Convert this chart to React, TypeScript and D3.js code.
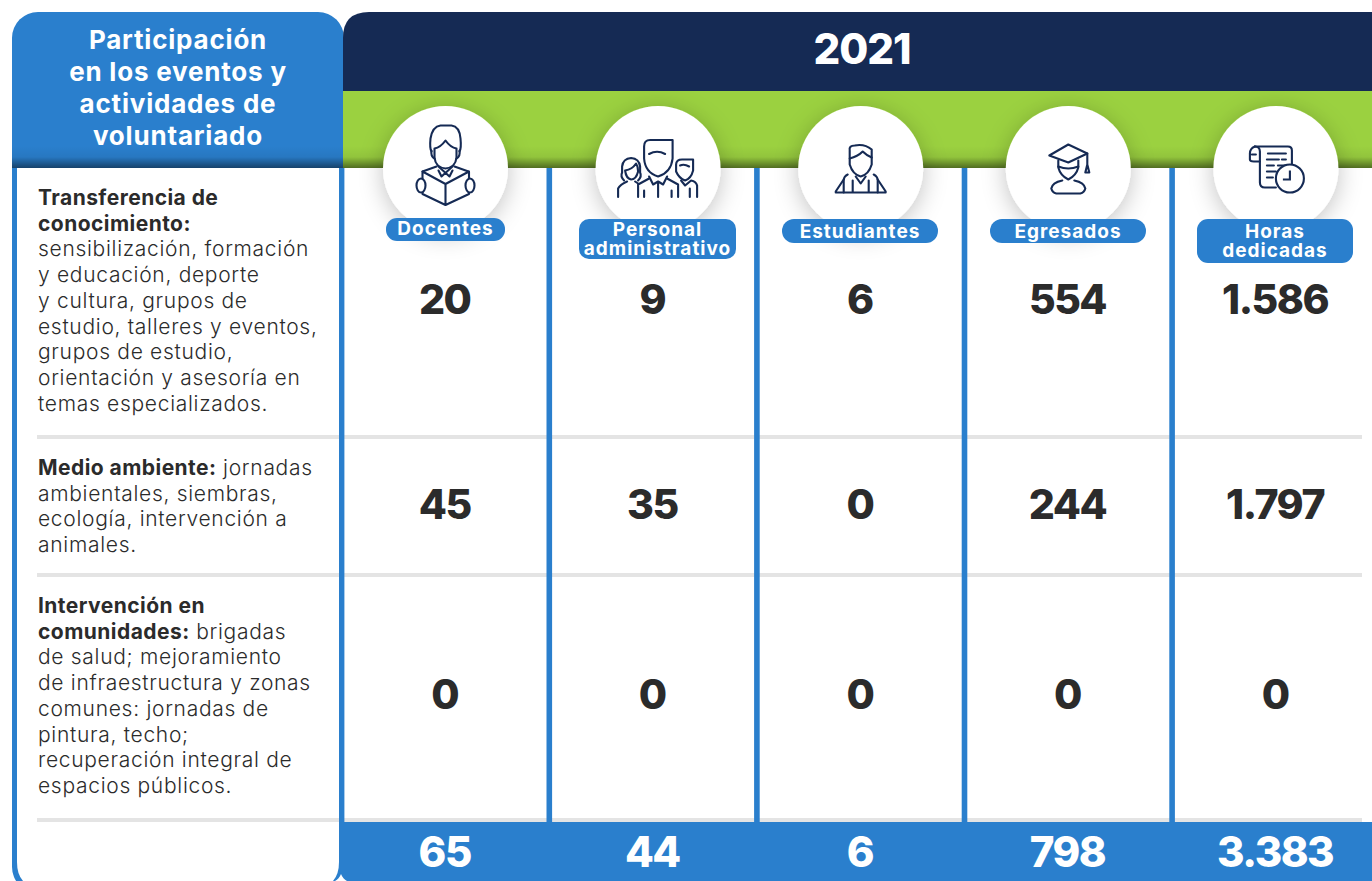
import { useEffect, useRef } from 'react';
import * as d3 from 'd3';

const year = '2021';
const titleLines = ['Participación', 'en los eventos y', 'actividades de', 'voluntariado'];
const categories = ['Docentes', 'Personal administrativo', 'Estudiantes', 'Egresados', 'Horas dedicadas'];
const pillLines = [['Docentes'], ['Personal', 'administrativo'], ['Estudiantes'], ['Egresados'], ['Horas', 'dedicadas']];
const rowNames = ['Transferencia', 'Medio ambiente', 'Intervencion'];
const transferencia = ['20', '9', '6', '554', '1.586'];
const medioAmbiente = ['45', '35', '0', '244', '1.797'];
const intervencion = ['0', '0', '0', '0', '0'];
const totals = ['65', '44', '6', '798', '3.383'];
const rowValues = [transferencia, medioAmbiente, intervencion];

// [bold part, regular part] per line
const rowTexts = [
  [
    ['Transferencia de', ''],
    ['conocimiento:', ''],
    ['', 'sensibilización, formación'],
    ['', 'y educación, deporte'],
    ['', 'y cultura, grupos de'],
    ['', 'estudio, talleres y eventos,'],
    ['', 'grupos de estudio,'],
    ['', 'orientación y asesoría en'],
    ['', 'temas especializados.'],
  ],
  [
    ['Medio ambiente:', ' jornadas'],
    ['', 'ambientales, siembras,'],
    ['', 'ecología, intervención a'],
    ['', 'animales.'],
  ],
  [
    ['Intervención en', ''],
    ['comunidades:', ' brigadas'],
    ['', 'de salud; mejoramiento'],
    ['', 'de infraestructura y zonas'],
    ['', 'comunes: jornadas de'],
    ['', 'pintura, techo;'],
    ['', 'recuperación integral de'],
    ['', 'espacios públicos.'],
  ],
];

const BLUE = '#2a7fcd';
const NAVY = '#152a54';
const GREEN = '#9bd140';
const INK = '#2b2b2b';
const FONT = 'Inter, "Open Sans", sans-serif';

// icons, drawn around the centre of each circle
const iconPaths = [
  [
    'M-14,-17 Q-16,-20 -15,-30 Q-13,-42 -5,-43 H6 Q14,-42 15,-30 Q16,-20 14,-17',
    'M-11,-20 Q-5,-21 0,-28 Q5,-21 11,-20 V-11 Q10,-1 0,0 Q-10,-1 -11,-11 Z',
    'M-14,-18 Q-15,-12 -11,-10 M14,-18 Q15,-12 11,-10',
    'M-7,-2 L4,8 M7,-2 L-4,8 M-4,8 L-7,2 M4,8 L7,2',
    'M-23,3 L-9,-2 M23,3 L9,-2',
    'M0,15.5 L-23,3 V25.5 L0,36.5 L23.5,25.5 V3 Z M0,15.5 V36.5',
  ],
  [
    'M-14,-22 Q-14,-28.5 -8,-28.5 H14.5 V-10 Q13,4 0,8 Q-13,4 -14,-10 Z',
    'M-9,-14.5 Q-1,-19 7,-14.5',
    'M-9,8 L-5,16 L0,13 L5,16 L9,8 M0,13 V28.5',
    'M-9,10 L-20,16 V28.5 M9,10 L20,16 V28.5 M-14,22 V28.5 M13.5,22 V28.5',
    'M-34,12 Q-38,8 -36,4 V-2 Q-35,-10 -27,-10.5 Q-19,-10 -18,-2 V4 Q-16,8 -20,12',
    'M-33,2 Q-26,1 -22,-5 Q-20,-2 -20,3 Q-22,11 -27,11 Q-32,10 -33,2',
    'M-40,28.5 V20 Q-38,16 -31,13 M-23,13 L-20,15',
    'M18,-4 Q18,-9 24,-9 H35 V2 Q33,10 27,12 Q21,10 18,3 Z',
    'M22,-3 Q26,-5 31,-2',
    'M23,12 L27,17 L33,12 Q38,13 39,17 V28.5 M31.7,20 V28.5',
  ],
  [
    'M-11,-4 V-18 Q-12,-23 -6,-23 Q4,-25 11,-19 V-4 Q8,6 0,8 Q-8,6 -11,-4 Z',
    'M-11,-10 Q-3,-12 2,-17 Q6,-13 11,-11',
    'M-13,6 Q-17,8 -17,12 V24 M13,6 Q17,8 17,12 V24 M-5,8 L0,15 L5,8',
    'M-25,23 L-17,11 M25,23 L17,11 M-25,24 H25 M-8,12 V24 M8,12 V24',
  ],
  [
    'M-19,-13 L0,-24 L19,-15 L0,-6 Z',
    'M-10,-8 V-1 Q-8,7 0,11 Q8,7 10,-1 V-8',
    'M-10,-2 Q0,2 10,-2',
    'M19,-15 V-4 M17,4 L19,-4 L21,4 Z',
    'M-6,12 Q-16,14 -17,20 Q-16,24 -12,25 H12 Q16,24 17,20 Q16,14 6,12',
  ],
  [
    'M-21,-22 H12 Q16,-22 16,-18 V-3',
    'M-21,-22 Q-16,-22 -16,-17 V14 Q-16,19 -11,19 H0',
    'M-21,-22 Q-26,-20 -26,-15 V-9 Q-26,-7 -22,-7 H-16 M-24,-14 H-20',
    'M-8,-15 H10 M-9,-9 H3 M6,-9 H10 M-9,-3 H-2 M2,-3 H10 M-9,3 H0 M-9,9 H-3',
  ],
];

const App = () => {
  const svgRef = useRef<SVGSVGElement>(null);

  useEffect(() => {
    const svg = d3.select(svgRef.current);
    svg.selectAll('*').remove();

    const xScale = d3.scaleBand().domain(categories).range([341.7, 1379.7]);
    const rowY = d3.scaleOrdinal<string, number>().domain(rowNames).range([299, 504, 694]);
    const center = (c: string) => (xScale(c) as number) + xScale.bandwidth() / 2;
    const circleOffset = [0, 5, 0, 0, 0];

    const defs = svg.append('defs');
    const shadow = defs.append('filter').attr('id', 'circle-shadow')
      .attr('x', '-50%').attr('y', '-50%').attr('width', '200%').attr('height', '200%');
    shadow.append('feDropShadow').attr('dx', 0).attr('dy', 4).attr('stdDeviation', 12)
      .attr('flood-color', '#000').attr('flood-opacity', 0.24);
    const fade = defs.append('linearGradient').attr('id', 'fade').attr('x1', 0).attr('x2', 0).attr('y1', 0).attr('y2', 1);
    fade.append('stop').attr('offset', '0%').attr('stop-color', '#000').attr('stop-opacity', 0);
    fade.append('stop').attr('offset', '50%').attr('stop-color', '#000').attr('stop-opacity', 0.06);
    fade.append('stop').attr('offset', '100%').attr('stop-color', '#000').attr('stop-opacity', 0.48);

    svg.append('rect').attr('width', 1372).attr('height', 881).attr('fill', '#fff');

    // left panel
    svg.append('rect').attr('x', 12).attr('y', 12).attr('width', 332).attr('height', 881).attr('rx', 26).attr('fill', BLUE);

    // right header
    svg.append('path').attr('fill', NAVY).attr('d', 'M343,91 V38 Q343,12 369,12 H1372 V91 Z');
    svg.append('rect').attr('x', 343).attr('y', 91).attr('width', 1029).attr('height', 77).attr('fill', GREEN);
    svg.append('rect').attr('x', 12).attr('y', 146).attr('width', 1360).attr('height', 22).attr('fill', 'url(#fade)');

    svg.append('path').attr('fill', '#fff')
      .attr('d', 'M17,168 H339 V862 Q339,888 313,888 H43 Q17,888 17,862 Z');

    // row separators
    svg.append('g').selectAll('rect').data([437, 575, 820]).enter().append('rect')
      .attr('x', 37).attr('y', d => d - 2).attr('width', 1325).attr('height', 4).attr('fill', '#e4e4e4');

    // column dividers
    svg.append('g').selectAll('rect').data(categories.slice(1)).enter().append('rect')
      .attr('x', d => (xScale(d) as number) - 2.8)
      .attr('y', 168).attr('width', 5.6).attr('height', 660).attr('fill', BLUE);
    svg.append('rect').attr('x', 339).attr('y', 168).attr('width', 5.4).attr('height', 700).attr('fill', BLUE);

    // totals bar
    svg.append('rect').attr('x', 339).attr('y', 822).attr('width', 1033).attr('height', 59).attr('fill', BLUE);
    svg.append('path').attr('fill', '#fff').attr('d', 'M335,881 Q339,879 341,874 Q343,879 347,881 Z');

    // title and year
    svg.append('g').selectAll('text').data(titleLines).enter().append('text')
      .attr('x', 178).attr('y', (_, i) => 49 + i * 32)
      .attr('text-anchor', 'middle').attr('fill', '#fff')
      .style('font-family', FONT).style('font-weight', 700).style('font-size', '26px').style('letter-spacing', '0.8px')
      .text(d => d);
    svg.append('text').attr('x', 862).attr('y', 64).attr('text-anchor', 'middle').attr('fill', '#fff')
      .style('font-family', FONT).style('font-weight', 800).style('font-size', '42px').style('letter-spacing', '-1px').text(year);

    // circles with icons
    const heads = svg.append('g').selectAll('g').data(categories).enter().append('g')
      .attr('transform', (d, i) => `translate(${center(d) + circleOffset[i]},168.5)`);
    heads.append('circle').attr('r', 62.5).attr('fill', '#fff').attr('filter', 'url(#circle-shadow)');
    heads.each(function (_, i) {
      const g = d3.select(this);
      g.selectAll('path').data(iconPaths[i]).enter().append('path')
        .attr('d', d => d).attr('fill', 'none').attr('stroke', NAVY)
        .attr('stroke-width', 2.1).attr('stroke-linecap', 'round').attr('stroke-linejoin', 'round');
      if (i === 0) {
        g.selectAll('ellipse').data([-24.5, 24.5]).enter().append('ellipse')
          .attr('cx', d => d).attr('cy', 17).attr('rx', 4.5).attr('ry', 7)
          .attr('fill', '#fff').attr('stroke', NAVY).attr('stroke-width', 2.1);
      }
      if (i === 4) {
        g.append('circle').attr('cx', 14).attr('cy', 10).attr('r', 14)
          .attr('fill', '#fff').attr('stroke', NAVY).attr('stroke-width', 2.1);
        g.append('path').attr('d', 'M14,2 V11 H7').attr('fill', 'none').attr('stroke', NAVY).attr('stroke-width', 2.1);
      }
    });

    // pills
    const pillBox = [
      { x: 386, y: 218, w: 119, h: 23, r: 11 },
      { x: 579, y: 219, w: 157, h: 40, r: 10 },
      { x: 782, y: 219, w: 156, h: 24, r: 12 },
      { x: 990, y: 219, w: 156, h: 24, r: 12 },
      { x: 1197, y: 219, w: 156, h: 44, r: 11 },
    ];
    const pillBaseline = [[234.5], [235.5, 255], [237.5], [237.5], [238, 257]];
    const pills = svg.append('g').selectAll('g').data(pillBox).enter().append('g');
    pills.append('rect').attr('x', d => d.x).attr('y', d => d.y).attr('width', d => d.w)
      .attr('height', d => d.h).attr('rx', d => d.r).attr('fill', BLUE);
    pills.each(function (d, i) {
      d3.select(this).selectAll('text').data(pillLines[i]).enter().append('text')
        .attr('x', d.x + d.w / 2).attr('y', (_, j) => pillBaseline[i][j])
        .attr('text-anchor', 'middle').attr('fill', '#fff')
        .style('font-family', FONT).style('font-weight', 700).style('font-size', '19px').style('letter-spacing', '1px')
        .text(t => t);
    });

    // description text
    const firstBaseline = [205, 475, 613];
    rowTexts.forEach((lines, r) => {
      lines.forEach((line, i) => {
        const t = svg.append('text').attr('x', 38).attr('y', firstBaseline[r] + i * 25.7)
          .attr('fill', INK).style('font-family', FONT).style('font-size', '21px').style('white-space', 'pre');
        if (line[0]) t.append('tspan').style('font-weight', 700).style('letter-spacing', '0.45px').text(line[0]);
        if (line[1]) t.append('tspan').style('font-weight', 300).style('letter-spacing', '0.7px').text(line[1]);
      });
    });

    // values
    rowValues.forEach((vals, r) => {
      svg.append('g').selectAll('text').data(vals).enter().append('text')
        .attr('x', (_, i) => center(categories[i]) - 0.8)
        .attr('y', (rowY(rowNames[r]) as number) + 15)
        .attr('text-anchor', 'middle').attr('fill', INK)
        .style('font-family', FONT).style('font-weight', 800).style('font-size', '41px').style('letter-spacing', '-1.5px')
        .text(d => d);
    });
    svg.append('g').selectAll('text').data(totals).enter().append('text')
      .attr('x', (_, i) => center(categories[i]) - 0.8).attr('y', 867)
      .attr('text-anchor', 'middle').attr('fill', '#fff')
      .style('font-family', FONT).style('font-weight', 800).style('font-size', '42px').style('letter-spacing', '-1.5px')
      .text(d => d);
  }, []);

  return <svg ref={svgRef} width={1372} height={881} style={{ position: 'absolute', left: 0, top: 0 }} />;
};

export default App;
